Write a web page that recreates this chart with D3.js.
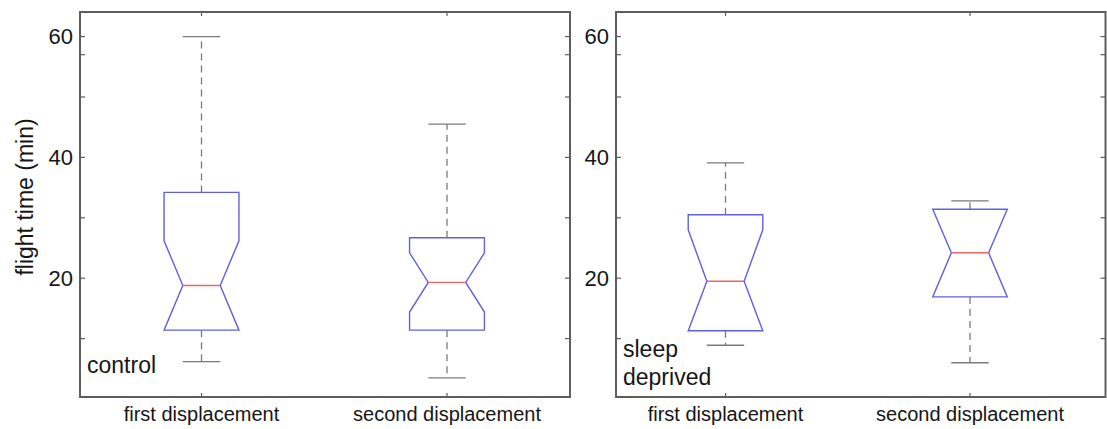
<!DOCTYPE html>
<html>
<head>
<meta charset="utf-8">
<script src="https://cdn.jsdelivr.net/npm/d3@7"></script>
<style>
  html, body { margin: 0; padding: 0; background: #fff; }
  svg { display: block; font-family: "Liberation Sans", Arial, sans-serif; }
</style>
</head>
<body>
<svg id="chart" width="1107" height="429"></svg>
<script>
// Group names along the x axis
const groups = ["first displacement", "second displacement"];

// Control condition: whisker ends, quartiles, medians, notch half-spans (min)
const controlLow    = [6.2, 3.5];
const controlQ1     = [11.4, 11.4];
const controlMedian = [18.8, 19.3];
const controlQ3     = [34.2, 26.7];
const controlHigh   = [60.0, 45.5];
const controlNotch  = [7.4, 4.9];

// Sleep-deprived condition
const sleepLow    = [8.9, 6.0];
const sleepQ1     = [11.3, 16.9];
const sleepMedian = [19.5, 24.2];
const sleepQ3     = [30.5, 31.4];
const sleepHigh   = [39.1, 32.8];
const sleepNotch  = [8.5, 9.0];

// Axis ticks
const yTicks = [10, 20, 30, 40, 50, 57, 60];
const yTickLabels = [20, 40, 60];
const yDomain = [0, 64];

const svg = d3.select("#chart");

const frameColor = "#5e5e5e";
const boxColor = "#6060e0";
const medianColor = "#ee6666";
const whiskerColor = "#7a7a7a";
const textColor = "#161616";

const frameTop = 12, frameBottom = 397;
const y = d3.scaleLinear().domain(yDomain).range([399, 12.4]);

function drawPanel(cfg) {
  const g = svg.append("g");
  const x = d3.scaleLinear().domain([1, 2]).range(cfg.centers);
  const boxW = 0.305 * (x(2) - x(1));

  // frame
  g.append("rect")
    .attr("x", cfg.left).attr("y", frameTop)
    .attr("width", cfg.right - cfg.left).attr("height", frameBottom - frameTop)
    .attr("fill", "none").attr("stroke", frameColor).attr("stroke-width", 2);

  // y ticks on both sides, pointing inward
  yTicks.forEach(t => {
    const yy = y(t);
    g.append("line").attr("x1", cfg.left).attr("x2", cfg.left + 5)
      .attr("y1", yy).attr("y2", yy).attr("stroke", frameColor).attr("stroke-width", 1.2);
    g.append("line").attr("x1", cfg.right).attr("x2", cfg.right - 5)
      .attr("y1", yy).attr("y2", yy).attr("stroke", frameColor).attr("stroke-width", 1.2);
  });
  yTickLabels.forEach(t => {
    g.append("text").attr("x", cfg.left - 7).attr("y", y(t))
      .attr("text-anchor", "end").attr("dominant-baseline", "central")
      .attr("font-size", 22).attr("fill", textColor).text(t);
  });

  // x ticks top and bottom, group labels
  groups.forEach((name, i) => {
    const cx = x(i + 1);
    g.append("line").attr("x1", cx).attr("x2", cx).attr("y1", frameTop).attr("y2", frameTop + 4)
      .attr("stroke", frameColor).attr("stroke-width", 1.2);
    g.append("line").attr("x1", cx).attr("x2", cx).attr("y1", frameBottom).attr("y2", frameBottom - 4)
      .attr("stroke", frameColor).attr("stroke-width", 1.2);
    g.append("text").attr("x", cx).attr("y", 421)
      .attr("text-anchor", "middle").attr("font-size", 20).attr("fill", textColor).text(name);
  });

  // boxes
  groups.forEach((name, i) => {
    const cx = x(i + 1);
    const l = cx - boxW / 2, r = cx + boxW / 2;
    const nl = cx - boxW / 4, nr = cx + boxW / 4;
    const q1 = cfg.q1[i], q3 = cfg.q3[i], med = cfg.median[i];
    const nHi = Math.min(med + cfg.notch[i], q3);
    const nLo = Math.max(med - cfg.notch[i], q1);

    // whiskers
    [[q3, cfg.high[i]], [q1, cfg.low[i]]].forEach(([a, b]) => {
      g.append("line").attr("x1", cx).attr("x2", cx).attr("y1", y(a)).attr("y2", y(b))
        .attr("stroke", whiskerColor).attr("stroke-width", 1.3)
        .attr("stroke-dasharray", "7,5");
      g.append("line").attr("x1", nl).attr("x2", nr).attr("y1", y(b)).attr("y2", y(b))
        .attr("stroke", whiskerColor).attr("stroke-width", 1.3);
    });

    const pts = [
      [l, q3], [r, q3], [r, nHi], [nr, med], [r, nLo], [r, q1],
      [l, q1], [l, nLo], [nl, med], [l, nHi]
    ].map(([px, v]) => [px, y(v)]);
    g.append("path").attr("d", d3.line()(pts) + "Z")
      .attr("fill", "#fff").attr("stroke", boxColor).attr("stroke-width", 1.4)
      .attr("stroke-linejoin", "miter");

    g.append("line").attr("x1", nl).attr("x2", nr).attr("y1", y(med)).attr("y2", y(med))
      .attr("stroke", medianColor).attr("stroke-width", 1.4);
  });

  // condition label
  cfg.label.forEach((line, k) => {
    g.append("text").attr("x", cfg.left + 7).attr("y", cfg.labelY + k * 28)
      .attr("font-size", 23).attr("fill", textColor).text(line);
  });
}

drawPanel({
  left: 80, right: 570, centers: [201.5, 447],
  low: controlLow, q1: controlQ1, median: controlMedian, q3: controlQ3,
  high: controlHigh, notch: controlNotch,
  label: ["control"], labelY: 373
});

drawPanel({
  left: 616, right: 1105.5, centers: [725.5, 970],
  low: sleepLow, q1: sleepQ1, median: sleepMedian, q3: sleepQ3,
  high: sleepHigh, notch: sleepNotch,
  label: ["sleep", "deprived"], labelY: 357
});

// shared y-axis title
svg.append("text")
  .attr("transform", "translate(33,197) rotate(-90)")
  .attr("text-anchor", "middle").attr("font-size", 23).attr("fill", textColor)
  .text("flight time (min)");
</script>
</body>
</html>
